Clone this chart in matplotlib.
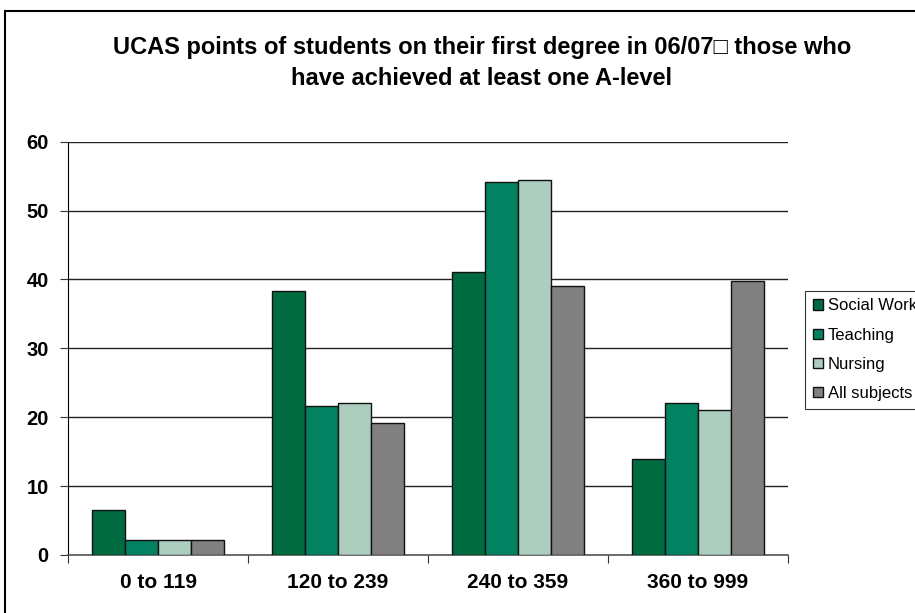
import matplotlib
matplotlib.use("Agg")
import matplotlib.pyplot as plt
from matplotlib.patches import Rectangle
import numpy as np

categories = ["0 to 119", "120 to 239", "240 to 359", "360 to 999"]
series_names = ["Social Work", "Teaching", "Nursing", "All subjects"]
social_work = [6.6, 38.3, 41.1, 14.0]
teaching = [2.2, 21.7, 54.2, 22.0]
nursing = [2.2, 22.0, 54.5, 21.1]
all_subjects = [2.2, 19.1, 39.1, 39.8]
colors = ["#006A40", "#038262", "#ADCDBF", "#808080"]
yticks = [0, 10, 20, 30, 40, 50, 60]

title = "UCAS points of students on their first degree in 06/07\u25a1 those who\nhave achieved at least one A-level"

plt.rcParams['font.family'] = ['Liberation Sans', 'DejaVu Sans']

fig = plt.figure(figsize=(9.15, 6.13), dpi=100)
ax = fig.add_axes([68/915, 58/613, 720/915, (555-141.7)/613])

data = [social_work, teaching, nursing, all_subjects]
x = np.arange(len(categories))
bw = 0.184
for i, (name, vals, c) in enumerate(zip(series_names, data, colors)):
    ax.bar(x + (i - 1.5) * bw, vals, width=bw, color=c, edgecolor="#111111",
           linewidth=1.0, label=name, zorder=3)

ax.set_xlim(-0.5, 3.5)
ax.set_ylim(0, 60)
ax.set_yticks(yticks)
ax.set_yticklabels([str(t) for t in yticks], fontsize=14.5, fontweight="bold")
ax.yaxis.grid(True, color="#222222", linewidth=1.0, zorder=0)
ax.set_axisbelow(True)

ax.set_xticks(np.arange(-0.5, 4.0, 1.0))
ax.set_xticklabels([])
ax.set_xticks(x, minor=True)
ax.set_xticklabels(categories, minor=True, fontsize=15, fontweight="bold")
ax.tick_params(axis="x", which="minor", length=0, pad=13)
ax.tick_params(axis="x", which="major", length=6, direction="out", color="#333333")
ax.tick_params(axis="y", length=6, direction="out", pad=8, color="#333333")

for s in ["top", "right"]:
    ax.spines[s].set_visible(False)
ax.spines["left"].set_color("#000000")
ax.spines["bottom"].set_color("#555555")
ax.spines["bottom"].set_linewidth(1.2)

fig.text(482/915, 1 - 63/613, title, ha="center", va="center",
         fontsize=17, fontweight="bold", linespacing=1.42)

# outer chart border
fig.patches.append(Rectangle((5/915, -0.05), 1.0, 1 - 11/613 + 0.05,
                             transform=fig.transFigure, fill=False,
                             edgecolor="black", linewidth=1.5))

leg = fig.legend(loc="upper left", bbox_to_anchor=(805/915, 1 - 291/613),
                 fontsize=12, frameon=True, fancybox=False, edgecolor="black",
                 handlelength=0.6, handleheight=0.6, handletextpad=0.3,
                 labelspacing=0.85, borderpad=0.45, borderaxespad=0)
leg.get_frame().set_linewidth(0.8)

fig.savefig("out.png", dpi=100)
